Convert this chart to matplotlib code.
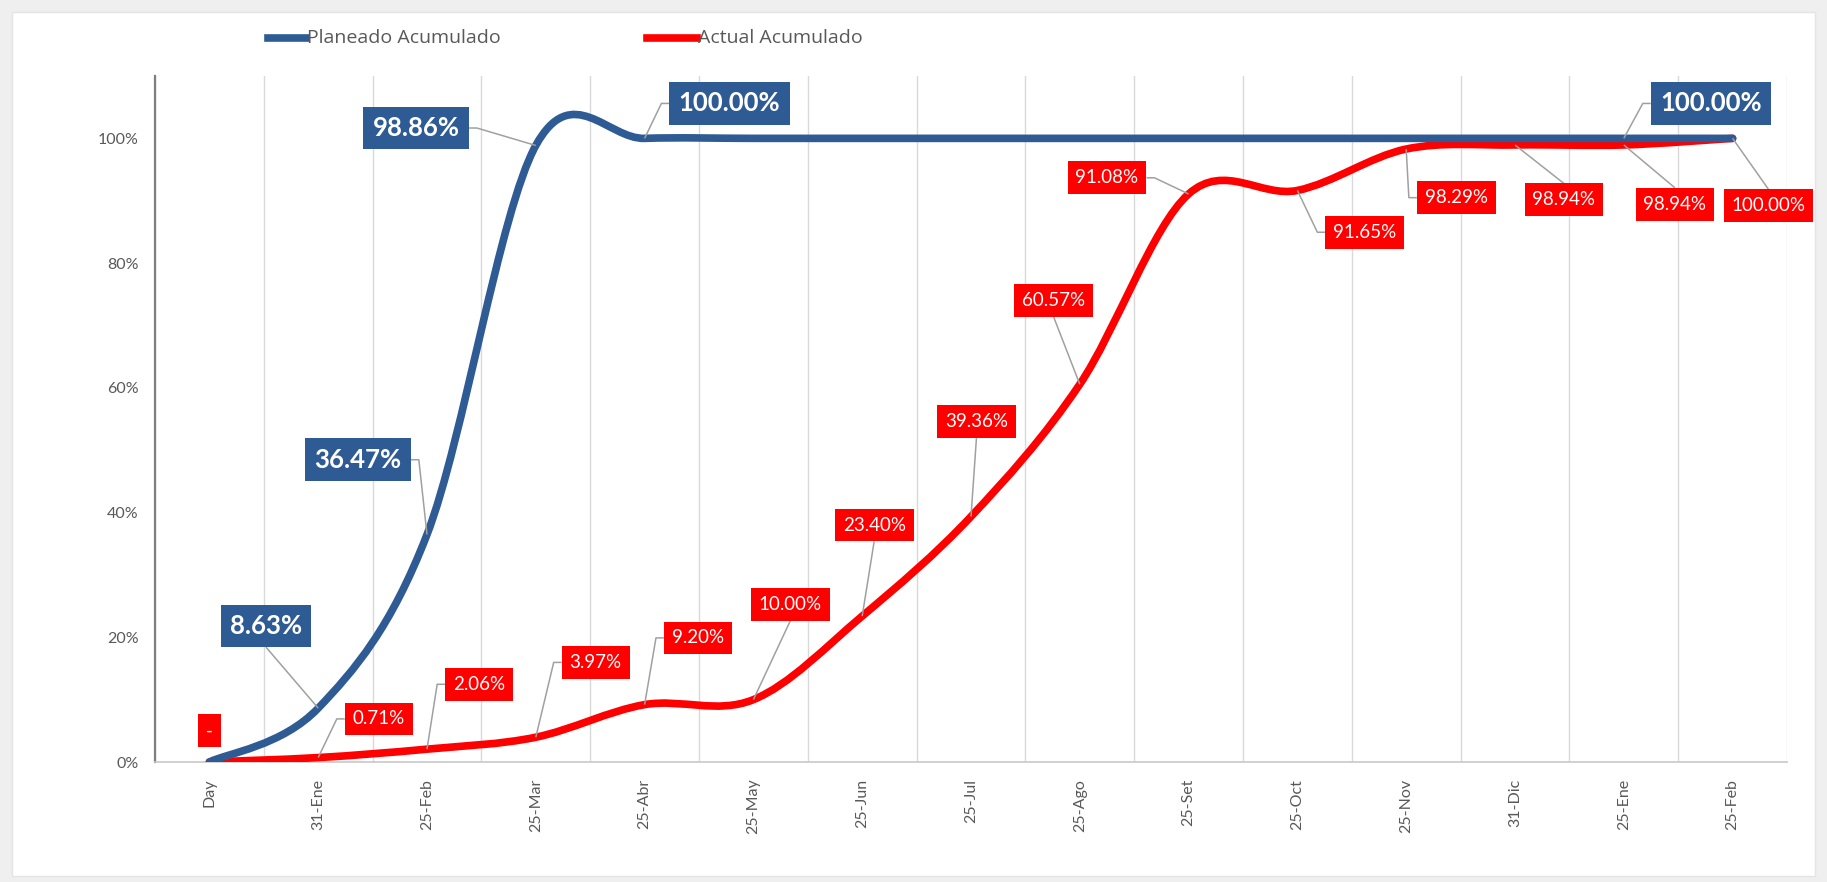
import matplotlib
matplotlib.use("Agg")
import matplotlib.pyplot as plt
from matplotlib.path import Path
from matplotlib.patches import PathPatch, Rectangle
from matplotlib.lines import Line2D

# ---- data -------------------------------------------------------------
categories = ["Day", "31-Ene", "25-Feb", "25-Mar", "25-Abr", "25-May", "25-Jun",
              "25-Jul", "25-Ago", "25-Set", "25-Oct", "25-Nov", "31-Dic",
              "25-Ene", "25-Feb"]
planeado = [0.0, 0.0863, 0.3647, 0.9886, 1.0, 1.0, 1.0, 1.0, 1.0, 1.0,
            1.0, 1.0, 1.0, 1.0, 1.0]
actual = [0.0, 0.0071, 0.0206, 0.0397, 0.0920, 0.1000, 0.2340, 0.3936,
          0.6057, 0.9108, 0.9165, 0.9829, 0.9894, 0.9894, 1.0]
series_names = ["Planeado Acumulado", "Actual Acumulado"]
y_ticks = [0.0, 0.2, 0.4, 0.6, 0.8, 1.0]
y_tick_labels = ["0%", "20%", "40%", "60%", "80%", "100%"]

# labelled points: index, label offset (dx in categories, dy in axis units), leader side
planeado_labels = [(1, -0.48, 0.132, "B"), (2, -0.634, 0.12, "R"),
                   (3, -1.10, 0.028, "R"), (4, 0.78, 0.056, "L"),
                   (13, 0.80, 0.056, "L")]
actual_labels = [(0, 0.0, 0.05, None), (1, 0.557, 0.062, "L"),
                 (2, 0.479, 0.104, "L"), (3, 0.55, 0.12, "L"),
                 (4, 0.49, 0.107, "L"), (5, 0.34, 0.153, "B"),
                 (6, 0.11, 0.146, "B"), (7, 0.05, 0.152, "B"),
                 (8, -0.24, 0.134, "B"), (9, -0.75, 0.026, "R"),
                 (10, 0.62, -0.067, "L"), (11, 0.46, -0.078, "L"),
                 (12, 0.45, -0.088, "T"), (13, 0.47, -0.095, "T"),
                 (14, 0.33, -0.108, "T")]

BLUE = "#2f5b94"
RED = "#ff0000"
GRID = "#d9d9d9"
TEXT_GRAY = "#595959"
LEADER = "#a0a0a0"
FONT = ["Lato", "DejaVu Sans"]

plt.rcParams["font.family"] = FONT

fig = plt.figure(figsize=(18.27, 8.82), dpi=100, facecolor="#efefef")
fig.patches.append(Rectangle((12 / 1827, 6 / 882), 1803 / 1827, 864 / 882,
                             transform=fig.transFigure, facecolor="white",
                             edgecolor="#e4e4e4", linewidth=1, zorder=-10))

ax = fig.add_axes([155 / 1827, 120 / 882, 1632 / 1827, 686 / 882])
ax.set_facecolor("white")
x = list(range(len(categories)))
ax.set_xlim(-0.5, len(categories) - 0.5)
ax.set_ylim(0, 1.1)

# vertical gridlines between categories
for b in range(len(categories) + 1):
    ax.axvline(b - 0.5, color=GRID, linewidth=1.0, zorder=1)

for s in ("top", "right"):
    ax.spines[s].set_visible(False)
ax.spines["left"].set_color("#7f7f7f")
ax.spines["left"].set_linewidth(1.6)
ax.spines["bottom"].set_color("#c8c8c8")
ax.spines["bottom"].set_linewidth(1.2)

ax.set_xticks(x)
ax.set_xticklabels(categories, rotation=90, fontsize=11.5, color=TEXT_GRAY)
ax.set_yticks(y_ticks)
ax.set_yticklabels(y_tick_labels, fontsize=11.5, color=TEXT_GRAY)
ax.tick_params(axis="x", length=0, pad=12)
ax.tick_params(axis="y", length=0, pad=12)


def smooth_path(xs, ys):
    """Cubic Bezier path through the points (Excel-style smoothed line)."""
    n = len(xs)
    verts = [(xs[0], ys[0])]
    codes = [Path.MOVETO]
    for i in range(n - 1):
        i0 = max(i - 1, 0)
        i3 = min(i + 2, n - 1)
        c1 = (xs[i] + (xs[i + 1] - xs[i0]) / 6.0, ys[i] + (ys[i + 1] - ys[i0]) / 6.0)
        c2 = (xs[i + 1] - (xs[i3] - xs[i]) / 6.0, ys[i + 1] - (ys[i3] - ys[i]) / 6.0)
        verts += [c1, c2, (xs[i + 1], ys[i + 1])]
        codes += [Path.CURVE4] * 3
    return Path(verts, codes)


ax.add_patch(PathPatch(smooth_path(x, actual), fill=False, edgecolor=RED,
                       linewidth=5.5, capstyle="round", joinstyle="round", zorder=3))
ax.add_patch(PathPatch(smooth_path(x, planeado), fill=False, edgecolor=BLUE,
                       linewidth=5.5, capstyle="round", joinstyle="round", zorder=4))


def fmt(v):
    return "-" if v == 0 else f"{v * 100:.2f}%"


texts = []
for idx, dx, dy, side in planeado_labels:
    t = ax.text(idx + dx, planeado[idx] + dy, fmt(planeado[idx]), ha="center",
                va="center", fontsize=18.5, fontweight="bold", color="white",
                zorder=7, bbox=dict(boxstyle="square,pad=0.36", fc=BLUE, ec="none"))
    texts.append((t, idx, planeado[idx], side))
for idx, dx, dy, side in actual_labels:
    t = ax.text(idx + dx, actual[idx] + dy, fmt(actual[idx]), ha="center",
                va="center", fontsize=13.5, color="white", zorder=7,
                bbox=dict(boxstyle="square,pad=0.42", fc=RED, ec="none"))
    texts.append((t, idx, actual[idx], side))

# leader lines from each label box to its point
fig.canvas.draw()
inv = ax.transData.inverted()
stub = 8
for t, idx, val, side in texts:
    if side is None:
        continue
    bb = t.get_bbox_patch().get_window_extent()
    px, py = ax.transData.transform((idx, val))
    cx, cy = (bb.x0 + bb.x1) / 2, (bb.y0 + bb.y1) / 2
    if side == "L":
        pts = [(bb.x0, cy), (bb.x0 - stub, cy), (px, py)]
    elif side == "R":
        pts = [(bb.x1, cy), (bb.x1 + stub, cy), (px, py)]
    elif side == "B":
        pts = [(cx, bb.y0), (px, py)]
    else:
        pts = [(cx, bb.y1), (px, py)]
    dpts = inv.transform(pts)
    ax.plot(dpts[:, 0], dpts[:, 1], color=LEADER, linewidth=1.1, zorder=5,
            solid_capstyle="butt")

# legend across the top
ly = 1 - 38 / 882
for (x0, x1, tx), name, col in zip([(268, 306, 307), (647, 697, 698)],
                                   series_names, [BLUE, RED]):
    fig.lines.append(Line2D([x0 / 1827, x1 / 1827], [ly, ly], color=col,
                            linewidth=5.5, transform=fig.transFigure))
    fig.text(tx / 1827, ly, name, ha="left", va="center", fontsize=14,
             color=TEXT_GRAY, family=["Open Sans", "DejaVu Sans"])

fig.savefig("out.png", dpi=100, facecolor=fig.get_facecolor())
